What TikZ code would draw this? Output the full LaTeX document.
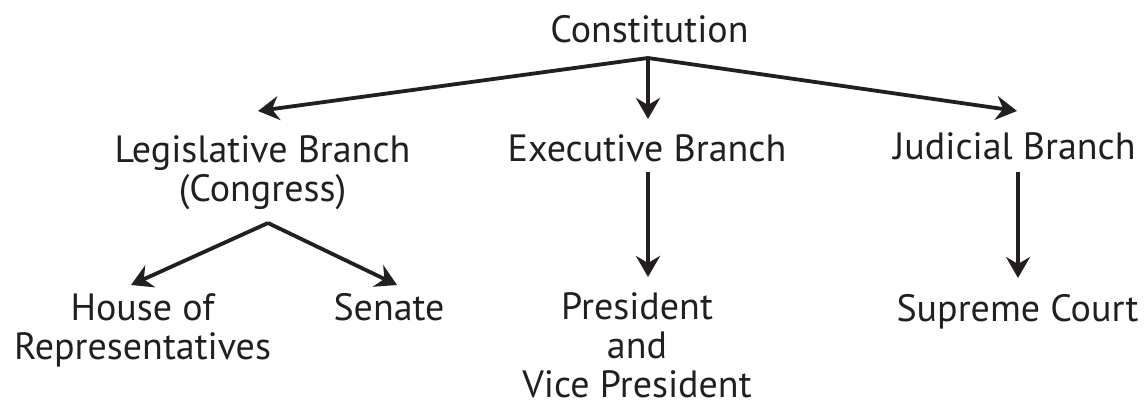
\documentclass[tikz,border=0pt]{standalone}
\usepackage{fontspec}
\setmainfont{PT Sans}
\usetikzlibrary{arrows.meta,calc}
\definecolor{ink}{HTML}{231F20}
\begin{document}
\begin{tikzpicture}[x=1pt,y=-1pt,
  lbl/.style={anchor=base,inner sep=0pt,align=center,text=ink,
    font=\fontsize{38}{39}\selectfont},
  arr/.style={draw=ink,line width=3.8pt,
    -{Stealth[length=21pt,width=24pt,inset=7pt]}}]
\useasboundingbox (0,0) rectangle (1148,401);
% for multi-line nodes the base anchor is the last line's baseline
\node[lbl] (const) at (649.5,43) {Constitution};
\node[lbl] (leg) at (262.5,201) {Legislative Branch\\(Congress)};
\node[lbl] (exe) at (647,161) {Executive Branch};
\node[lbl] (jud) at (1014.5,160) {Judicial Branch};
\node[lbl] (house) at (142.5,359) {House of\\Representatives};
\node[lbl] (senate) at (389,320) {Senate};
\node[lbl] (pres) at (637,397) {President\\and\\Vice President};
\node[lbl] (sup) at (1017.5,321) {Supreme Court};
\coordinate (apex) at ($(const.base)+(-1.5,15)$);
\coordinate (capex) at ($(leg.base)+(5.5,22)$);
\draw[arr] (apex) -- ($(leg.base)+(-4.5,-90)$);
\draw[arr] (apex) -- ($(exe.base)+(1,-42)$);
\draw[arr] (apex) -- ($(jud.base)+(2.5,-49)$);
\draw[arr] ($(exe.base)+(1,11)$) -- ($(pres.base)+(11,-120)$);
\draw[arr] ($(jud.base)+(3.5,12)$) -- ($(sup.base)+(0.5,-43)$);
\draw[arr] (capex) -- ($(house.base)+(-11.5,-74)$);
\draw[arr] (capex) -- ($(senate.base)+(8,-35)$);
\end{tikzpicture}
\end{document}
